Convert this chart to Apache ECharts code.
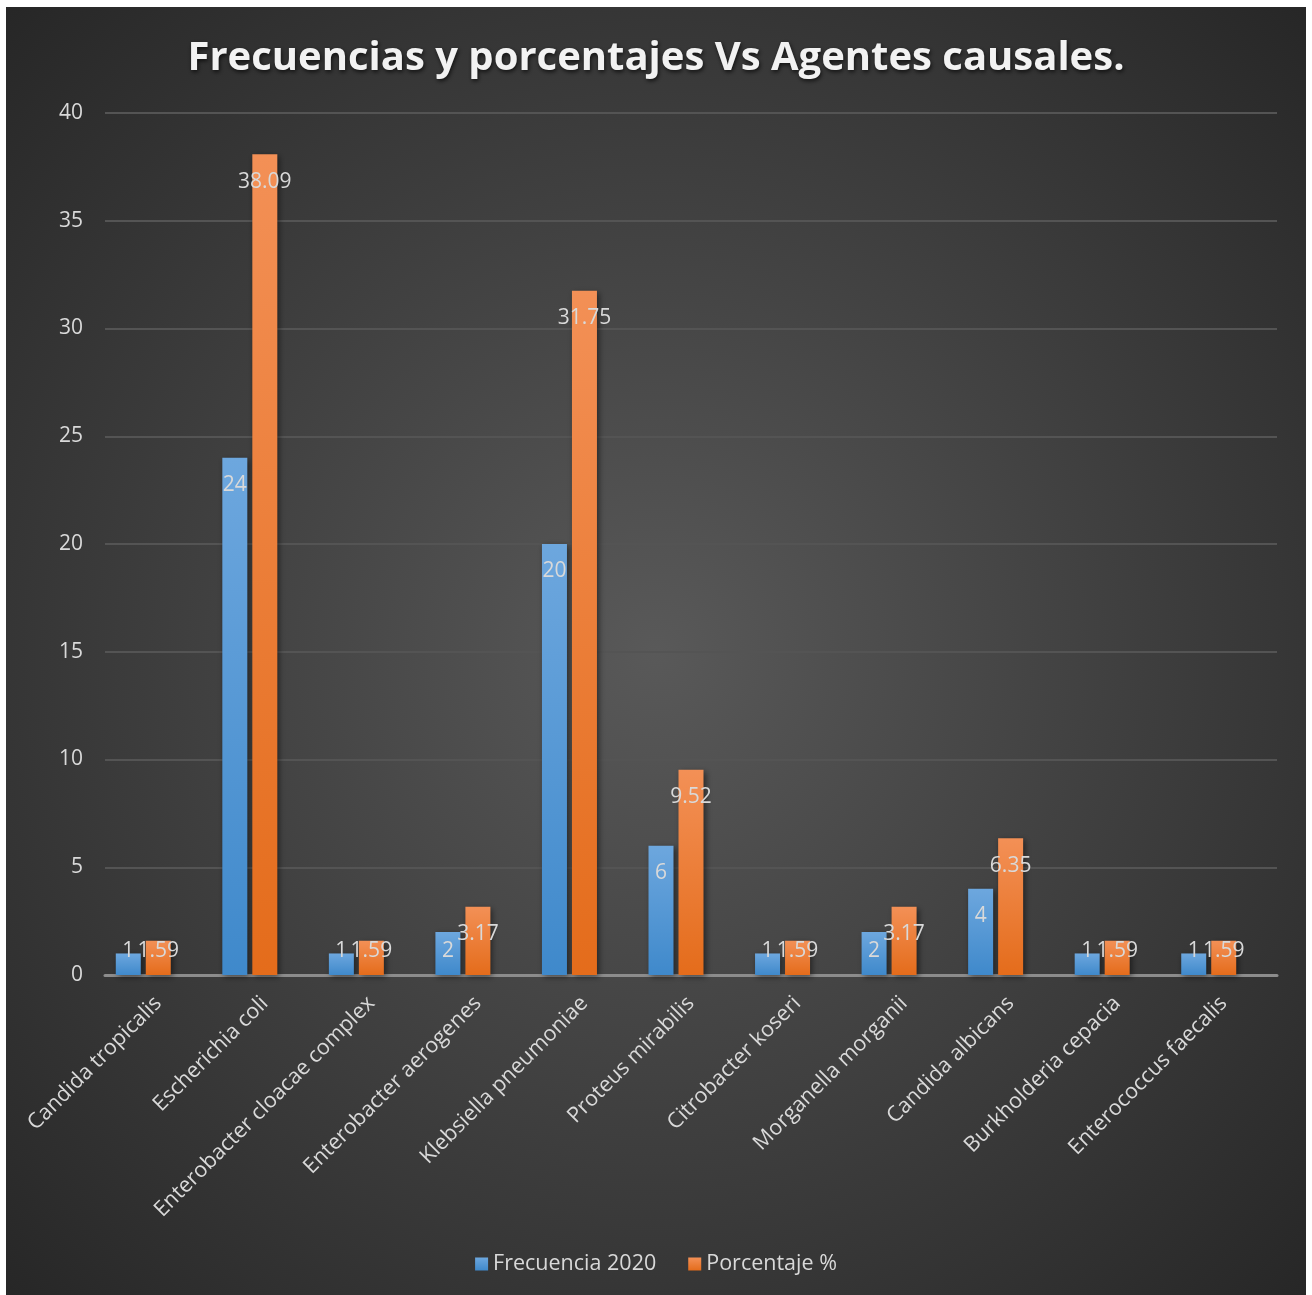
<!DOCTYPE html>
<html><head><meta charset="utf-8">
<script src="https://cdn.jsdelivr.net/npm/echarts@6/dist/echarts.min.js"></script>
<style>
html,body{margin:0;padding:0;background:#fff;width:1312px;height:1295px;overflow:hidden}
#c{position:absolute;left:6px;top:7px;width:1300px;height:1288px}
</style></head><body><div id="c"></div>
<script>
const categories = ["Candida tropicalis","Escherichia coli","Enterobacter cloacae complex","Enterobacter aerogenes","Klebsiella pneumoniae","Proteus mirabilis","Citrobacter koseri","Morganella morganii","Candida albicans","Burkholderia cepacia","Enterococcus faecalis"];
const frecuencia = [1,24,1,2,20,6,1,2,4,1,1];
const porcentaje = [1.59,38.09,1.59,3.17,31.75,9.52,1.59,3.17,6.35,1.59,1.59];
const yTicks = {min:0, max:40, interval:5};
const seriesNames = ["Frecuencia 2020","Porcentaje %"];

const FONT = "'Open Sans', 'Noto Sans', sans-serif";
function items(arr){
  return arr.map(v => v < 2.5
    ? {value:v, label:{position:'insideBottom', distance:13}}
    : {value:v});
}
const lbl = {show:true, position:'insideTop', distance:17, color:'#d9d9d9', fontSize:21, fontFamily:FONT};
const chart = echarts.init(document.getElementById('c'));
chart.setOption({
  backgroundColor:{type:'radial', x:0.5, y:0.5, r:0.72, colorStops:[{offset:0,color:'#595959'},{offset:1,color:'#262626'}]},
  animation:false,
  title:{text:'Frecuencias y porcentajes Vs Agentes causales.', left:'center', top:27,
    textStyle:{color:'#f2f2f2', fontSize:40, fontWeight:'bold', fontFamily:FONT,
      textShadowColor:'rgba(0,0,0,0.7)', textShadowBlur:4, textShadowOffsetX:1, textShadowOffsetY:2}},
  legend:{data:seriesNames, bottom:15, left:'center', itemWidth:13, itemHeight:13, itemGap:32,
    icon:'rect', textStyle:{color:'#d9d9d9', fontSize:21.5, fontFamily:FONT}},
  grid:{left:99, right:29, top:106, bottom:320, containLabel:false},
  xAxis:{type:'category', data:categories,
    axisLine:{lineStyle:{color:'#8c8c8c', width:3}}, axisTick:{show:false},
    axisLabel:{rotate:45, interval:0, color:'#d9d9d9', fontSize:21.5, fontFamily:FONT, margin:25}},
  yAxis:{type:'value', min:yTicks.min, max:yTicks.max, interval:yTicks.interval,
    axisLine:{show:false}, axisTick:{show:false},
    axisLabel:{color:'#d9d9d9', fontSize:21, fontFamily:FONT, margin:22},
    splitLine:{lineStyle:{color:'#545454', width:2}}},
  series:[
    {name:seriesNames[0], type:'bar', data:items(frecuencia), barWidth:25, barGap:'20%',
      label:lbl,
      itemStyle:{color:{type:'linear',x:0,y:0,x2:0,y2:1,colorStops:[{offset:0,color:'#6da7de'},{offset:1,color:'#3f89cb'}]},
        shadowColor:'rgba(0,0,0,0.5)', shadowBlur:6, shadowOffsetX:2, shadowOffsetY:2}},
    {name:seriesNames[1], type:'bar', data:items(porcentaje), barWidth:25, barGap:'20%',
      label:lbl,
      itemStyle:{color:{type:'linear',x:0,y:0,x2:0,y2:1,colorStops:[{offset:0,color:'#f39056'},{offset:1,color:'#e46c1b'}]},
        shadowColor:'rgba(0,0,0,0.5)', shadowBlur:6, shadowOffsetX:2, shadowOffsetY:2}},
    {name:'_spacer', type:'bar', data:categories.map(()=>null), barWidth:25, barGap:'20%', silent:true}
  ]
});
</script></body></html>
